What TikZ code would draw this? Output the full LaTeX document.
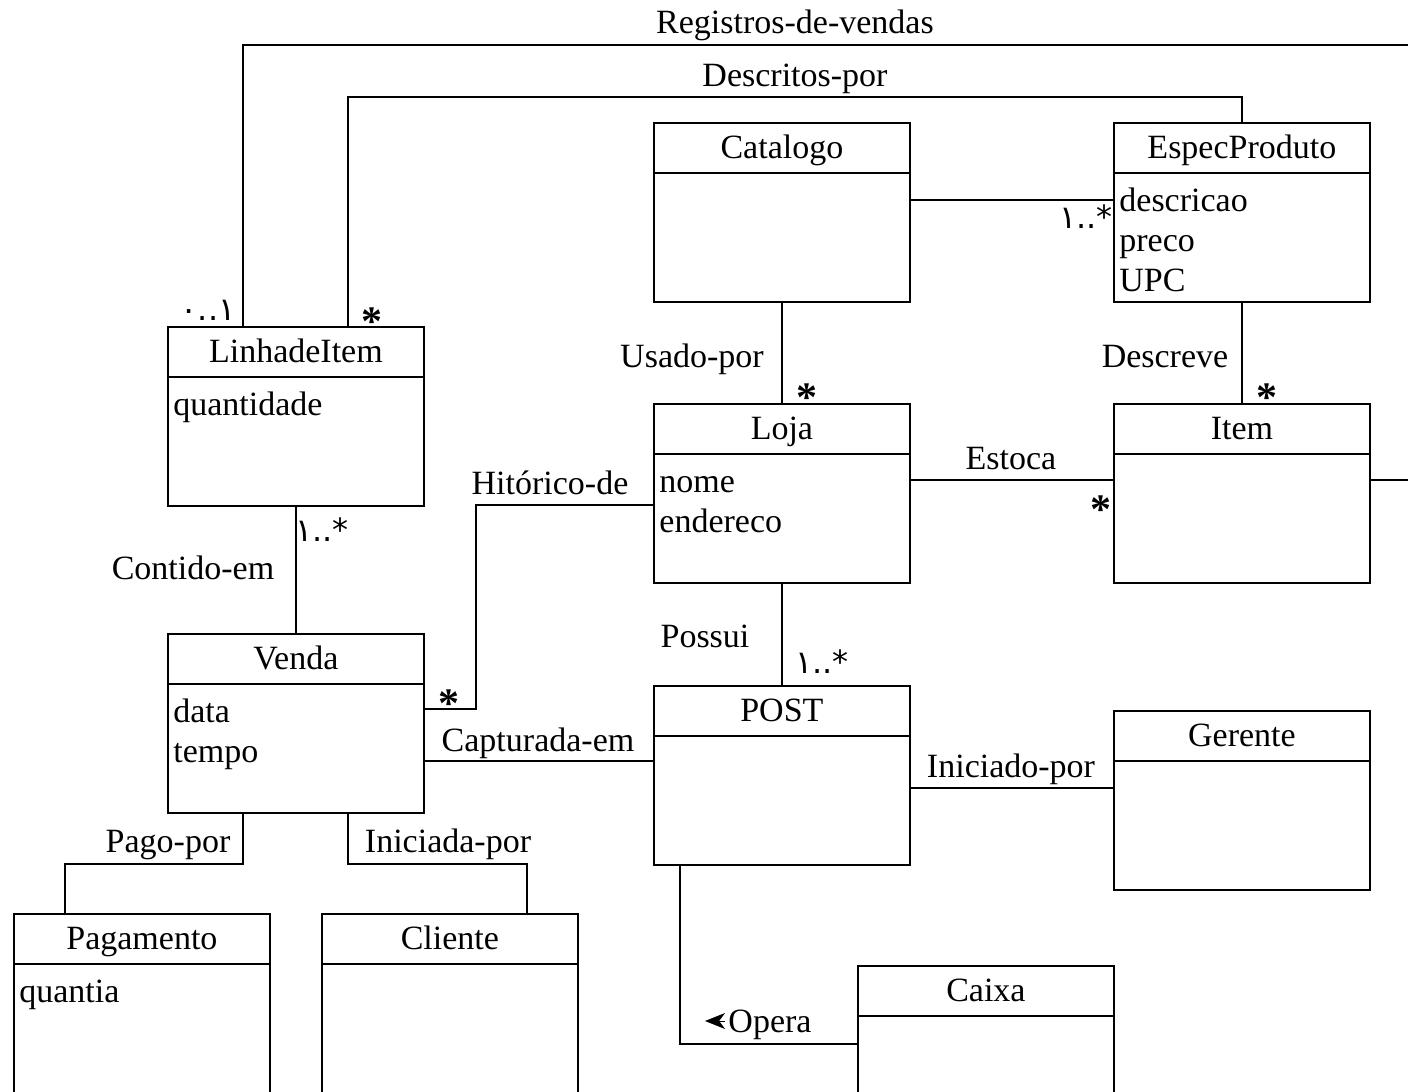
\documentclass[tikz,border=0pt]{standalone}
\usepackage{fontspec}
\setmainfont{Liberation Serif}
\newfontfamily\arabicfont{DejaVu Sans}
\usepackage{tikz}
\usetikzlibrary{arrows.meta}

\tikzset{
  classbox/.style={draw, line width=0.9pt, anchor=north west,
    minimum width=128pt, minimum height=89.5pt, inner sep=0pt},
  classname/.style={inner sep=0pt, text height=13pt, text depth=2pt},
  attrlist/.style={anchor=north west, align=left, inner xsep=3pt, inner ysep=5pt},
  assoc/.style={inner sep=0pt, text height=13pt, text depth=2pt},
  mult/.style={inner sep=0pt, font=\bfseries\fontsize{21}{23}\selectfont},
  multar/.style={inner sep=0pt, font=\arabicfont\fontsize{16}{18}\selectfont},
  link/.style={line width=0.9pt},
}

% class box: name, top left corner, title, attributes
\newcommand{\umlclass}[4]{%
  \node[classbox] (#1) at (#2) {};
  \draw[link] ([yshift=-25.5pt]#1.north west) -- ([yshift=-25.5pt]#1.north east);
  \node[classname] (#1-name) at ([yshift=-12.75pt]#1.north) {#3};
  \node[attrlist] (#1-attr) at ([yshift=-25.5pt]#1.north west) {\strut#4};
}
\newcommand{\manystar}{\raisebox{-5.5pt}[9pt][0pt]{*}}

\begin{document}
\begin{tikzpicture}[x=0.5pt, y=-0.5pt, font=\fontsize{17}{20}\selectfont]
    \useasboundingbox (0,0) rectangle (1408,1092);
    \clip (0,0) rectangle (1408,1092);

    \umlclass{catalogo}{653,122}{Catalogo}{}
    \umlclass{espec}{1113,122}{EspecProduto}{descricao\\preco\\UPC}
    \umlclass{linha}{167,326}{LinhadeItem}{quantidade}
    \umlclass{loja}{653,403}{Loja}{nome\\endereco}
    \umlclass{item}{1113,403}{Item}{}
    \umlclass{venda}{167,633}{Venda}{data\\tempo}
    \umlclass{post}{653,685}{POST}{}
    \umlclass{gerente}{1113,710}{Gerente}{}
    \umlclass{pagamento}{13,913}{Pagamento}{quantia}
    \umlclass{cliente}{321,913}{Cliente}{}
    \umlclass{caixa}{857,965}{Caixa}{}

    \draw[link] ([xshift=38pt]linha.north west) |- (1430,45) |- ([yshift=6.75pt]item.east);
    \draw[link] ([xshift=-38.5pt]linha.north east) -- ++(0,-229) -| (espec.north);
    \draw[link] ([yshift=6.25pt]catalogo.east) -- ([yshift=6.25pt]espec.west);
    \draw[link] (catalogo.south) -- (loja.north);
    \draw[link] (espec.south) -- (item.north);
    \draw[link] ([yshift=6.75pt]loja.east) -- ([yshift=6.75pt]item.west);
    \draw[link] (linha.south) -- (venda.north);
    \draw[link] ([yshift=7.25pt]venda.east) -- ++(51,0) |- ([yshift=-5.75pt]loja.west);
    \draw[link] ([yshift=-18.75pt]venda.east) -- ([yshift=7.25pt]post.west);
    \draw[link] (loja.south) -- (post.north);
    \draw[link] ([yshift=-6.25pt]post.east) -- ([yshift=6.25pt]gerente.west);
    \draw[link] ([xshift=38pt]venda.south west) -- ++(0,50) -| ([xshift=26pt]pagamento.north west);
    \draw[link] ([xshift=-38.5pt]venda.south east) -- ++(0,50) -| ([xshift=-26pt]cliente.north east);
    \draw[link] ([xshift=13.5pt]post.south west) |- ([yshift=5.75pt]caixa.west);

    \node[assoc] (registros) at (795,22) {Registros-de-vendas};
    \node[assoc] (descritos) at (795,75) {Descritos-por};
    \node[assoc] (usado) at (692,356) {Usado-por};
    \node[assoc] (descreve) at (1165,356) {Descreve};
    \node[assoc] (estoca) at (1011,458) {Estoca};
    \node[assoc] (historico) at (550,483) {Hitórico-de};
    \node[assoc] (contido) at (193,568) {Contido-em};
    \node[assoc] (possui) at (705,636) {Possui};
    \node[assoc] (capturada) at (538,740) {Capturada-em};
    \node[assoc] (iniciado) at (1011,766) {Iniciado-por};
    \node[assoc] (pago) at (168,841) {Pago-por};
    \node[assoc] (iniciada) at (448,841) {Iniciada-por};
    \node[assoc] (opera) at (770,1021) {Opera};
    \draw[-{Stealth[length=10pt, width=8pt, inset=3pt]}, line width=0.4pt]
        ([xshift=-1.5pt]opera.west) -- ++(-20,0);

    \node[multar] (m-registros) at (208,310) {\mbox{٠}..\mbox{١}};
    \node[mult] (m-descritos) at (372,315) {\manystar};
    \node[multar] (m-catalogo) at (1086,217) {\mbox{١}..*};
    \node[mult] (m-usado) at (807,391) {\manystar};
    \node[mult] (m-descreve) at (1267,391) {\manystar};
    \node[mult] (m-estoca) at (1101,503) {\manystar};
    \node[multar] (m-contido) at (322,530) {\mbox{١}..*};
    \node[mult] (m-historico) at (449,697) {\manystar};
    \node[multar] (m-possui) at (822,662) {\mbox{١}..*};
\end{tikzpicture}
\end{document}
